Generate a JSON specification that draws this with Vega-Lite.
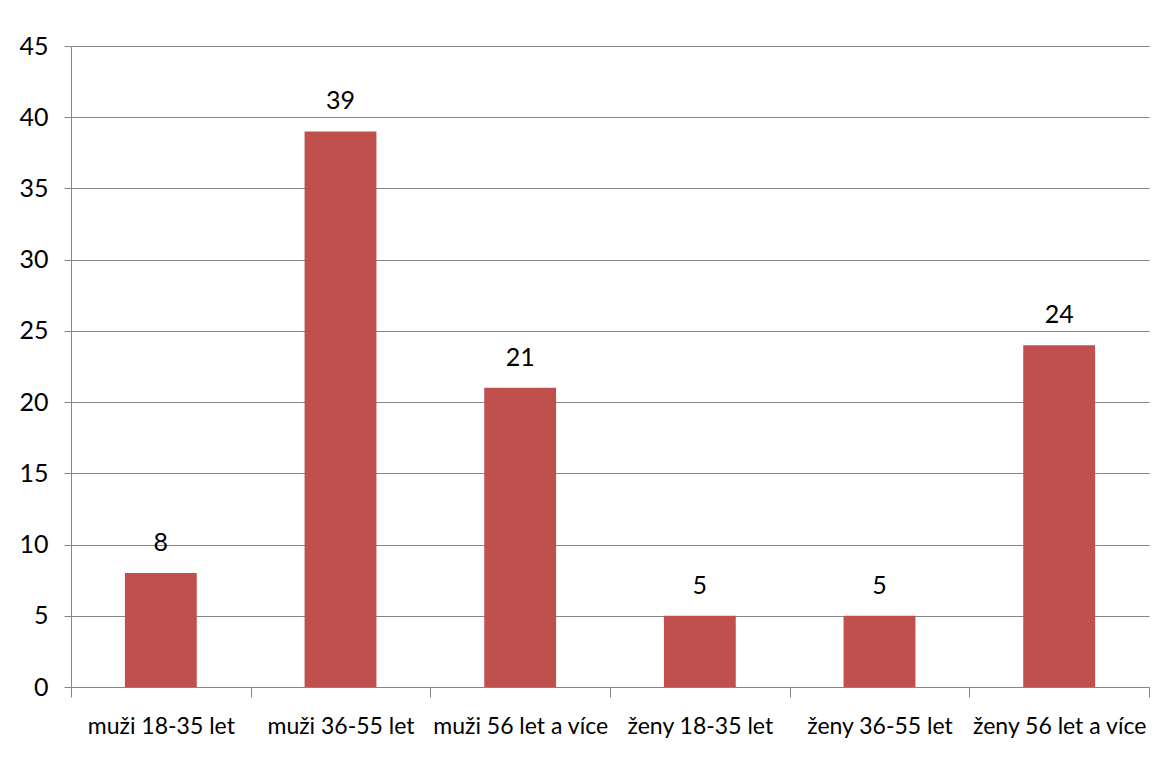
{
  "$schema": "https://vega.github.io/schema/vega-lite/v6.json",
  "width": 1078,
  "height": 641,
  "autosize": {"type": "none"},
  "padding": {"left": 71, "top": 46, "right": 27, "bottom": 71},
  "background": "white",
  "config": {
    "view": {"stroke": null},
    "font": "Lato, sans-serif"
  },
  "data": {
    "values": [
      {"kategorie": "muži 18-35 let", "pocet": 8},
      {"kategorie": "muži 36-55 let", "pocet": 39},
      {"kategorie": "muži 56 let a více", "pocet": 21},
      {"kategorie": "ženy 18-35 let", "pocet": 5},
      {"kategorie": "ženy 36-55 let", "pocet": 5},
      {"kategorie": "ženy 56 let a více", "pocet": 24}
    ]
  },
  "encoding": {
    "x": {
      "field": "kategorie",
      "type": "nominal",
      "sort": null,
      "scale": {"paddingInner": 0, "paddingOuter": 0},
      "axis": {
        "title": null,
        "labelAngle": 0,
        "labelFont": "Lato, sans-serif",
        "labelFontSize": 23,
        "labelLimit": 0,
        "labelColor": "#000000",
        "labelPadding": 18,
        "tickBand": "extent",
        "tickSize": 10,
        "tickColor": "#868686",
        "domainColor": "#868686",
        "grid": false
      }
    },
    "y": {
      "field": "pocet",
      "type": "quantitative",
      "scale": {"domain": [0, 45], "nice": false},
      "axis": {
        "title": null,
        "values": [0, 5, 10, 15, 20, 25, 30, 35, 40, 45],
        "labelFont": "Lato, sans-serif",
        "labelFontSize": 25,
        "labelColor": "#000000",
        "labelPadding": 16,
        "tickSize": 7,
        "tickColor": "#868686",
        "domainColor": "#868686",
        "gridColor": "#868686",
        "gridWidth": 1
      }
    }
  },
  "layer": [
    {
      "mark": {"type": "bar", "color": "#C0504D", "width": {"band": 0.4}}
    },
    {
      "mark": {
        "type": "text",
        "dy": -22,
        "baseline": "alphabetic",
        "font": "Lato, sans-serif",
        "fontSize": 25,
        "color": "#000000"
      },
      "encoding": {"text": {"field": "pocet", "type": "quantitative"}}
    }
  ]
}
